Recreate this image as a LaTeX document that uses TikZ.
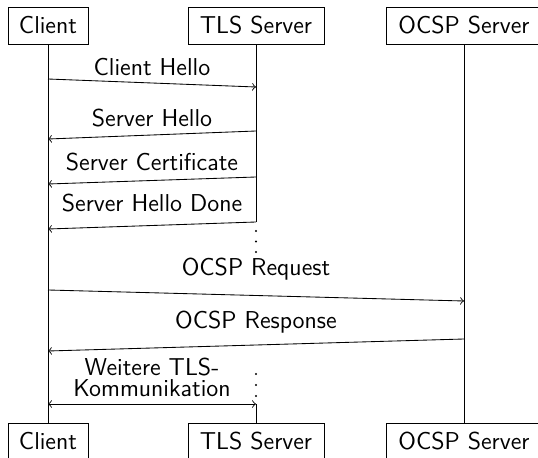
\documentclass[tikz,border=0pt]{standalone}
\begin{document}
\begin{tikzpicture}[x=0.4667pt,y=-0.4667pt, font=\sffamily\fontsize{11.4pt}{13.7pt}\selectfont,
  actor/.style={draw, minimum height=17.3pt, inner sep=0pt},
  msg/.style={->},
  dualmsg/.style={<->},
  lbl/.style={above},
  dotmark/.style={fill=black}]
\clip (0,0) rectangle (538,458);
% actors top
\node[actor, minimum width=37.3pt] (ct) at (48,25.5) {Client};
\node[actor, minimum width=63.5pt] (tt) at (256,25.5) {TLS Server};
\node[actor, minimum width=72.8pt] (ot) at (464,25.5) {OCSP Server};
% actors bottom
\node[actor, minimum width=37.3pt] (cb) at (48,441.5) {Client};
\node[actor, minimum width=63.5pt] (tb) at (256,441.5) {TLS Server};
\node[actor, minimum width=72.8pt] (ob) at (464,441.5) {OCSP Server};
% message end points
\coordinate (c1) at (48,79);   \coordinate (t1) at (256,87);
\coordinate (t2) at (256,131); \coordinate (c2) at (48,139);
\coordinate (t3) at (256,177); \coordinate (c3) at (48,184);
\coordinate (t4) at (256,222); \coordinate (c4) at (48,229);
\coordinate (c5) at (48,290);  \coordinate (o5) at (464,301);
\coordinate (o6) at (464,339); \coordinate (c6) at (48,351);
\coordinate (c7) at (48,404);  \coordinate (t7) at (256,404);
% lifelines
\draw (ct) -- (cb);
\draw (tt) -- (t4);
\draw (t7) -- (tb);
\draw (ot) -- (ob);
% messages
\draw[msg] (c1) -- node[lbl] {Client Hello} (t1);
\draw[msg] (t2) -- node[lbl] {Server Hello} (c2);
\draw[msg] (t3) -- node[lbl, yshift=0.9pt] {Server Certificate} (c3);
\draw[msg] (t4) -- node[lbl, yshift=2.8pt] {Server Hello Done} (c4);
\draw[msg] (c5) -- node[lbl, yshift=3.7pt] {OCSP Request} (o5);
\draw[msg] (o6) -- node[lbl, yshift=1.9pt] {OCSP Response} (c6);
\draw[dualmsg] (c7) -- node[lbl, align=center] {Weitere TLS-\\[-4.2pt]Kommunikation} (t7);
% dots
\foreach \y in {231,241.5,252,374,385,396}
  \fill[dotmark] (256,\y) circle (0.55pt);
\end{tikzpicture}
\end{document}
